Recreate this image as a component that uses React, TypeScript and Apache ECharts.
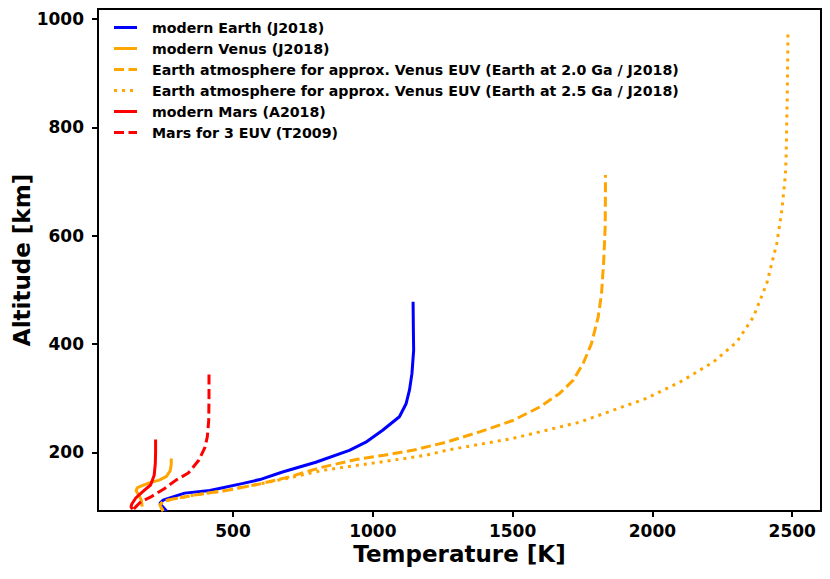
import React, { useEffect, useRef } from "react";
import * as echarts from "echarts";

const xTicks = [500, 1000, 1500, 2000, 2500];
const yTicks = [200, 400, 600, 800, 1000];

const seriesNames = [
  "modern Earth (J2018)",
  "modern Venus (J2018)",
  "Earth atmosphere for approx. Venus EUV (Earth at 2.0 Ga / J2018)",
  "Earth atmosphere for approx. Venus EUV (Earth at 2.5 Ga / J2018)",
  "modern Mars (A2018)",
  "Mars for 3 EUV (T2009)",
];

const earthT = [262, 238, 250, 285, 327, 417, 536, 596, 677, 796, 916, 975, 1035, 1095, 1119, 1131, 1140, 1146, 1145, 1144];
const earthAlt = [92, 106, 112, 118, 125, 130, 143, 150, 164, 182, 204, 219, 241, 266, 290, 315, 346, 389, 426, 478];

const venusT = [175, 172, 162, 153, 158, 175, 200, 236, 262, 275, 279, 279];
const venusAlt = [100, 112, 122, 130, 135, 139, 144, 149, 156, 166, 178, 189];

const venus20T = [250, 238, 250, 285, 357, 476, 596, 701, 820, 940, 1040, 1143, 1262, 1382, 1501, 1597, 1668, 1716, 1752, 1782, 1806, 1818, 1826, 1831, 1832, 1832];
const venus20Alt = [92, 103, 110, 114, 121, 130, 142, 155, 173, 187, 195, 204, 219, 238, 259, 284, 309, 333, 364, 401, 450, 493, 555, 616, 678, 712];

const venus25T = [250, 238, 250, 285, 357, 476, 596, 701, 820, 940, 1023, 1192, 1262, 1501, 1740, 1979, 2099, 2218, 2302, 2361, 2409, 2445, 2463, 2475, 2478, 2482, 2485];
const venus25Alt = [92, 103, 110, 114, 121, 130, 142, 153, 167, 176, 182, 195, 204, 226, 256, 300, 330, 367, 404, 450, 512, 586, 647, 709, 740, 850, 976];

const marsT = [140, 135, 138, 152, 175, 205, 218, 222, 223, 223];
const marsAlt = [95, 100, 105, 116, 127, 140, 158, 180, 200, 224];

const mars3T = [145, 170, 206, 254, 296, 340, 378, 400, 408, 413, 414, 414];
const mars3Alt = [96, 109, 118, 133, 149, 162, 186, 210, 229, 259, 300, 348];

const seriesColors = ["#0000ff", "#ffa500", "#ffa500", "#ffa500", "#ff0000", "#ff0000"];
const DASH = [10, 4.5];
const DOT = [3, 5];
const seriesDash: any[] = ["solid", "solid", DASH, DOT, "solid", DASH];

const zip = (t: number[], a: number[]) => t.map((v, i) => [v, a[i]]);

const FONT = "DejaVu Sans";

export default function App() {
  const ref = useRef<HTMLDivElement>(null);
  useEffect(() => {
    const chart = echarts.init(ref.current!, null, { renderer: "svg" });
    const data = [
      zip(earthT, earthAlt),
      zip(venusT, venusAlt),
      zip(venus20T, venus20Alt),
      zip(venus25T, venus25Alt),
      zip(marsT, marsAlt),
      zip(mars3T, mars3Alt),
    ];
    const series = data.map((d, i) => ({
      name: seriesNames[i],
      type: "line",
      data: d,
      symbol: "none",
      showSymbol: false,
      smooth: false,
      lineStyle: { color: seriesColors[i], width: 3, type: seriesDash[i] },
      itemStyle: { color: seriesColors[i] },
      z: 2 + i,
    }));
    const legendEls: any[] = [];
    seriesNames.forEach((n, i) => {
      const y = 27.5 + i * 21;
      const dash = seriesDash[i];
      legendEls.push({
        type: "line",
        shape: { x1: 114, y1: y, x2: 137, y2: y },
        style: {
          stroke: seriesColors[i],
          lineWidth: 3,
          lineDash: Array.isArray(dash) ? dash : null,
        },
        z: 100,
      });
      legendEls.push({
        type: "text",
        x: 152,
        y,
        style: {
          text: n,
          fontFamily: FONT,
          fontWeight: "bold",
          fontSize: 14.2,
          fill: "#000",
          verticalAlign: "middle",
          align: "left",
        },
        z: 100,
      });
    });
    const fmt = (v: number) => String(v);
    chart.setOption({
      animation: false,
      backgroundColor: "#ffffff",
      grid: {
        left: 98,
        right: 9,
        top: 9,
        bottom: 68,
        show: true,
        borderColor: "#000",
        borderWidth: 2,
        backgroundColor: "transparent",
        containLabel: false,
        outerBoundsMode: "none",
      },
      graphic: legendEls,
      xAxis: {
        type: "value",
        min: 17,
        max: 2603,
        name: "Temperature [K]",
        nameLocation: "middle",
        nameGap: 31,
        nameMoveOverlap: false,
        nameTextStyle: { fontFamily: FONT, fontWeight: "bold", fontSize: 23, color: "#000" },
        axisLine: { show: true, lineStyle: { color: "#000", width: 2 } },
        axisTick: { show: true, length: 6, lineStyle: { color: "#000", width: 2 }, customValues: xTicks },
        axisLabel: {
          fontFamily: FONT,
          fontWeight: "bold",
          fontSize: 17,
          color: "#000",
          margin: 11,
          formatter: fmt,
          customValues: xTicks,
        },
        splitLine: { show: false },
      },
      yAxis: {
        type: "value",
        min: 92,
        max: 1018.5,
        name: "Altitude [km]",
        nameLocation: "middle",
        nameGap: 65,
        nameMoveOverlap: false,
        nameTextStyle: { fontFamily: FONT, fontWeight: "bold", fontSize: 23, color: "#000" },
        axisLine: { show: true, lineStyle: { color: "#000", width: 2 } },
        axisTick: { show: true, length: 6, lineStyle: { color: "#000", width: 2 }, customValues: yTicks },
        axisLabel: {
          fontFamily: FONT,
          fontWeight: "bold",
          fontSize: 17,
          color: "#000",
          margin: 14,
          formatter: fmt,
          customValues: yTicks,
        },
        splitLine: { show: false },
      },
      series,
    });
    return () => chart.dispose();
  }, []);
  return (
    <div
      ref={ref}
      style={{ position: "absolute", left: 0, top: 0, width: 830, height: 579 }}
    />
  );
}
